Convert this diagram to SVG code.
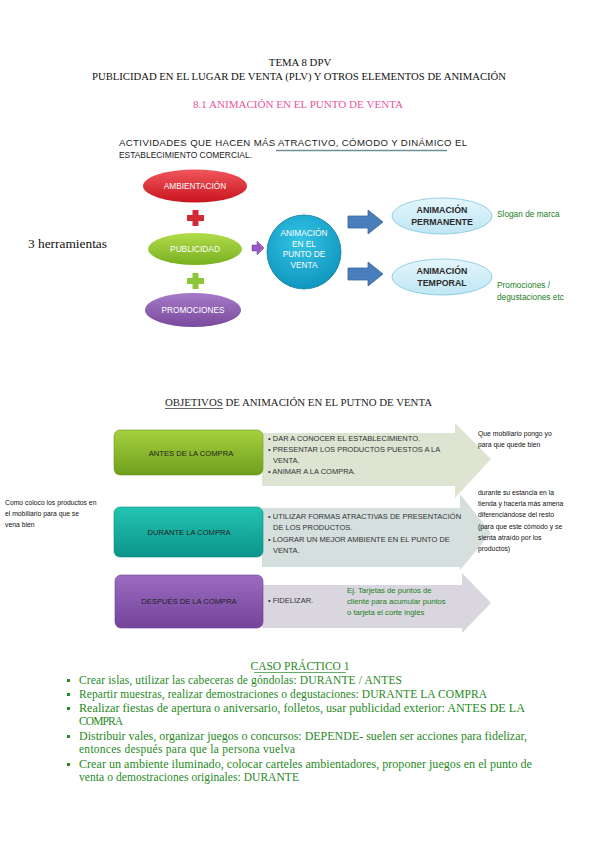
<svg xmlns="http://www.w3.org/2000/svg" width="599" height="848" viewBox="0 0 599 848">
<defs>
<style>
.serif{font-family:"Liberation Serif","DejaVu Serif",serif}
.sans{font-family:"Liberation Sans","DejaVu Sans",sans-serif}
.wt{fill:#fff;font-family:"Liberation Sans",sans-serif;font-size:8.3px;text-anchor:middle}
.dk{fill:#2b2b2b;font-family:"Liberation Sans",sans-serif;font-size:8.8px;font-weight:bold;text-anchor:middle}
.bl{fill:#333;font-family:"Liberation Sans",sans-serif;font-size:7.5px}
.nt{fill:#111;font-family:"Liberation Sans",sans-serif;font-size:6.8px}
.gn{fill:#1a801a;font-family:"Liberation Sans",sans-serif;font-size:7.7px}
.cp{fill:#1f8a24;font-family:"Liberation Serif",serif;font-size:11.5px}
.rl{fill:#222;font-family:"Liberation Sans",sans-serif;font-size:7.6px;text-anchor:middle}
</style>
<linearGradient id="gRed" x1="0" y1="0" x2="0" y2="1"><stop offset="0" stop-color="#f0575c"/><stop offset="1" stop-color="#c8141e"/></linearGradient>
<linearGradient id="gGreen" x1="0" y1="0" x2="0" y2="1"><stop offset="0" stop-color="#b2dc4a"/><stop offset="1" stop-color="#78b021"/></linearGradient>
<linearGradient id="gPurple" x1="0" y1="0" x2="0" y2="1"><stop offset="0" stop-color="#a57ac8"/><stop offset="1" stop-color="#7a4a9c"/></linearGradient>
<radialGradient id="gCyan" cx="0.45" cy="0.35" r="0.7"><stop offset="0" stop-color="#34c4e6"/><stop offset="1" stop-color="#0f93bb"/></radialGradient>
<linearGradient id="gLight" x1="0" y1="0" x2="0" y2="1"><stop offset="0" stop-color="#e4f6fc"/><stop offset="1" stop-color="#bfe6f4"/></linearGradient>
<linearGradient id="gR1" x1="0" y1="0" x2="0" y2="1"><stop offset="0" stop-color="#a6d03e"/><stop offset="1" stop-color="#6e9f1c"/></linearGradient>
<linearGradient id="gR2" x1="0" y1="0" x2="0" y2="1"><stop offset="0" stop-color="#22c4b2"/><stop offset="1" stop-color="#0c948a"/></linearGradient>
<linearGradient id="gR3" x1="0" y1="0" x2="0" y2="1"><stop offset="0" stop-color="#9b6bc0"/><stop offset="1" stop-color="#73449a"/></linearGradient>
</defs>
<rect width="599" height="848" fill="#fff"/>

<g id="titles" class="serif">
<text x="300" y="66" font-size="10.8" text-anchor="middle" fill="#111">TEMA 8 DPV</text>
<text x="92" y="80" font-size="10.5" fill="#111" textLength="414" lengthAdjust="spacingAndGlyphs">PUBLICIDAD EN EL LUGAR DE VENTA (PLV) Y OTROS ELEMENTOS DE ANIMACIÓN</text>
<text x="193" y="108" font-size="10.5" fill="#e8559a" textLength="210" lengthAdjust="spacingAndGlyphs">8.1 ANIMACIÓN EN EL PUNTO DE VENTA</text>
</g>

<g id="intro" class="sans" fill="#222">
<text x="119" y="146" font-size="9.6" textLength="348" lengthAdjust="spacing">ACTIVIDADES QUE HACEN MÁS ATRACTIVO, CÓMODO Y DINÁMICO EL</text>
<text x="119" y="158" font-size="9.6" textLength="133" lengthAdjust="spacingAndGlyphs">ESTABLECIMIENTO COMERCIAL.</text>
<line x1="276" y1="150.5" x2="447" y2="150.5" stroke="#6f8f96" stroke-width="1.6"/>
</g>

<text id="herramientas" class="serif" x="28" y="248" font-size="12.5" fill="#111" textLength="79" lengthAdjust="spacingAndGlyphs">3 herramientas</text>

<g id="connectors">
<path d="M187,215 h5.5 v-5 h6 v5 h5.5 v6 h-5.5 v5 h-6 v-5 h-5.5 z" fill="#d42a36"/>
<path d="M187,278 h5.5 v-5 h6 v5 h5.5 v6 h-5.5 v5 h-6 v-5 h-5.5 z" fill="#8ec63a"/>
<path d="M252,245 h5 v-4 l7,7 l-7,7 v-4 h-5 z" fill="#9b59c4" stroke="#6e3a96" stroke-width="0.5"/>
<path d="M348,216 h20 v-6 l15,12 l-15,12 v-6 h-20 z" fill="#4a7dbb" stroke="#3a679e" stroke-width="0.8"/>
<path d="M348,268 h20 v-6 l15,12 l-15,12 v-6 h-20 z" fill="#4a7dbb" stroke="#3a679e" stroke-width="0.8"/>
</g>

<g id="ambientacion">
<ellipse cx="195" cy="186" rx="52" ry="16.5" fill="url(#gRed)"/>
<text class="wt" x="195" y="189">AMBIENTACIÓN</text>
</g>
<g id="publicidad">
<ellipse cx="195" cy="249" rx="47" ry="16" fill="url(#gGreen)"/>
<text class="wt" x="195" y="252">PUBLICIDAD</text>
</g>
<g id="promociones">
<ellipse cx="193" cy="310" rx="48" ry="17" fill="url(#gPurple)"/>
<text class="wt" x="193" y="313">PROMOCIONES</text>
</g>
<g id="animacion-pv">
<circle cx="304" cy="252" r="37" fill="url(#gCyan)" stroke="#0b7ea3" stroke-width="0.8"/>
<text class="wt" x="304" y="236" font-size="8.2">ANIMACIÓN</text>
<text class="wt" x="304" y="246.5" font-size="8.2">EN EL</text>
<text class="wt" x="304" y="257" font-size="8.2">PUNTO DE</text>
<text class="wt" x="304" y="267.5" font-size="8.2">VENTA</text>
</g>
<g id="permanente">
<ellipse cx="442" cy="216" rx="50" ry="18" fill="url(#gLight)" stroke="#7fc6dc" stroke-width="0.8"/>
<text class="dk" x="442" y="213">ANIMACIÓN</text>
<text class="dk" x="442" y="225">PERMANENTE</text>
</g>
<g id="temporal">
<ellipse cx="442" cy="277" rx="50" ry="18" fill="url(#gLight)" stroke="#7fc6dc" stroke-width="0.8"/>
<text class="dk" x="442" y="274">ANIMACIÓN</text>
<text class="dk" x="442" y="286">TEMPORAL</text>
</g>
<g id="notes-top" class="gn">
<text x="497" y="217" font-size="8.3">Slogan de marca</text>
<text x="497" y="288" font-size="8.3">Promociones /</text>
<text x="497" y="300" font-size="8.3">degustaciones etc</text>
</g>

<g id="objetivos-title" class="serif" fill="#222">
<text x="165" y="406" font-size="10.5" textLength="267" lengthAdjust="spacingAndGlyphs">OBJETIVOS DE ANIMACIÓN EN EL PUTNO DE VENTA</text>
<line x1="165" y1="408.5" x2="223" y2="408.5" stroke="#222" stroke-width="0.7"/>
</g>

<g id="antes">
<path d="M262,433 H455 V423 L491,459 L455,498 V486 H262 Z" fill="#dde4d2"/>
<rect x="114" y="430" width="149" height="45" rx="6" fill="url(#gR1)" stroke="#6a9a22" stroke-width="0.6"/>
<text class="rl" x="191" y="456">ANTES DE LA COMPRA</text>
<text class="bl" x="268" y="441">• DAR A CONOCER EL ESTABLECIMIENTO.</text>
<text class="bl" x="268" y="452">• PRESENTAR LOS PRODUCTOS PUESTOS A LA</text>
<text class="bl" x="273" y="463">VENTA.</text>
<text class="bl" x="268" y="474">• ANIMAR A LA COMPRA.</text>
</g>

<g id="durante">
<path d="M262,508 H460 V494 L491,533 L460,570 V567 H262 Z" fill="#d4dfde"/>
<rect x="114" y="507" width="149" height="50" rx="6" fill="url(#gR2)" stroke="#0c8a80" stroke-width="0.6"/>
<text class="rl" x="189" y="535">DURANTE LA COMPRA</text>
<text class="bl" x="268" y="519">• UTILIZAR FORMAS ATRACTIVAS DE PRESENTACIÓN</text>
<text class="bl" x="273" y="530">DE LOS PRODUCTOS.</text>
<text class="bl" x="268" y="542">• LOGRAR UN MEJOR AMBIENTE EN EL PUNTO DE</text>
<text class="bl" x="273" y="553">VENTA.</text>
</g>

<g id="despues">
<path d="M262,585 H462 V573 L491,603 L462,633 V628 H262 Z" fill="#d9d6df"/>
<rect x="115" y="575" width="148" height="53" rx="6" fill="url(#gR3)" stroke="#6a3f8f" stroke-width="0.6"/>
<text class="rl" x="189" y="604">DESPUÉS DE LA COMPRA</text>
<text class="bl" x="268" y="603">• FIDELIZAR.</text>
<text class="gn" x="347" y="593">Ej. Tarjetas de puntos de</text>
<text class="gn" x="347" y="604">cliente para acumular puntos</text>
<text class="gn" x="347" y="615">o tarjeta el corte inglés</text>
</g>

<g id="notes-side" class="nt">
<text x="478" y="436">Que mobiliario pongo yo</text>
<text x="478" y="447">para que quede bien</text>
<text x="478" y="495">durante su estancia en la</text>
<text x="478" y="506">tienda y hacerla más amena</text>
<text x="478" y="517">diferenciándose del resto</text>
<text x="478" y="529">(para que este cómodo y se</text>
<text x="478" y="540">sienta atraído por los</text>
<text x="478" y="551">productos)</text>
<text x="5" y="505">Como coloco los productos en</text>
<text x="5" y="516">el mobiliario para que se</text>
<text x="5" y="527">vena bien</text>
</g>

<g id="caso">
<text class="cp" x="300" y="670" text-anchor="middle" font-size="11">CASO PRÁCTICO 1</text>
<line x1="254" y1="672.5" x2="346" y2="672.5" stroke="#1f8a24" stroke-width="0.7"/>
<g fill="#1f8a24">
<rect x="67" y="679" width="3" height="3"/>
<rect x="67" y="693" width="3" height="3"/>
<rect x="67" y="707" width="3" height="3"/>
<rect x="67" y="735" width="3" height="3"/>
<rect x="67" y="763" width="3" height="3"/>
</g>
<text class="cp" x="79" y="684" textLength="323" lengthAdjust="spacing">Crear islas, utilizar las cabeceras de góndolas:  DURANTE / ANTES</text>
<text class="cp" x="79" y="698" textLength="408" lengthAdjust="spacing">Repartir muestras, realizar demostraciones o degustaciones: DURANTE LA COMPRA</text>
<text class="cp" x="79" y="712" textLength="446" lengthAdjust="spacingAndGlyphs">Realizar fiestas de apertura o aniversario, folletos, usar publicidad exterior: ANTES DE LA</text>
<text class="cp" x="79" y="725" textLength="44" lengthAdjust="spacing">COMPRA</text>
<text class="cp" x="79" y="740" textLength="448" lengthAdjust="spacingAndGlyphs">Distribuir vales, organizar juegos o concursos: DEPENDE- suelen ser acciones para fidelizar,</text>
<text class="cp" x="79" y="753" textLength="216" lengthAdjust="spacing">entonces después para que la persona vuelva</text>
<text class="cp" x="79" y="768" textLength="453" lengthAdjust="spacingAndGlyphs">Crear un ambiente iluminado, colocar carteles ambientadores, proponer juegos en el punto de</text>
<text class="cp" x="79" y="781" textLength="220" lengthAdjust="spacing">venta o demostraciones originales: DURANTE</text>
</g>
</svg>
